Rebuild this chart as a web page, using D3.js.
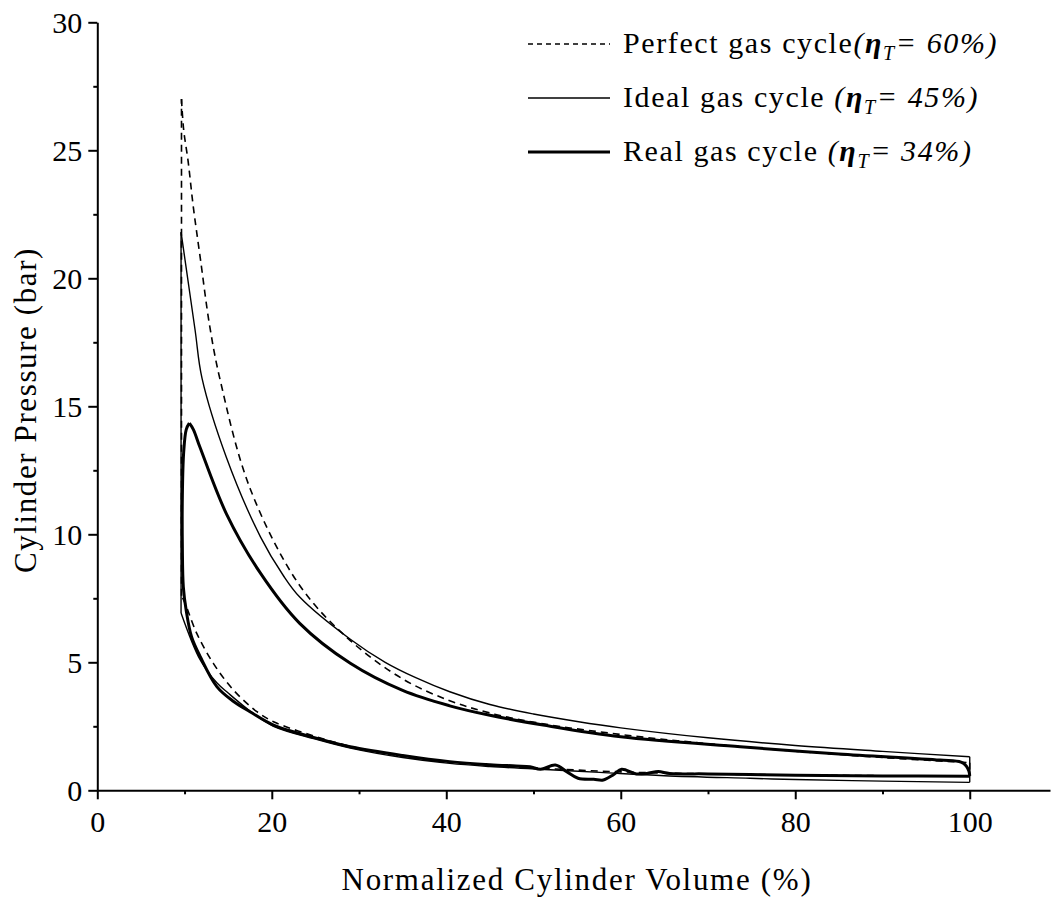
<!DOCTYPE html>
<html>
<head>
<meta charset="utf-8">
<script src="https://cdn.jsdelivr.net/npm/d3@7"></script>
<style>
  body { margin: 0; background: #fff; }
  svg text { font-family: "Liberation Serif", "DejaVu Serif", serif; fill: #000; }
</style>
</head>
<body>
<svg id="chart" width="1051" height="901"></svg>
<script>
// --- données : [volume normalisé (%), pression (bar)] ---

// cycle gaz parfait (tirets)
const perfectCompression = [[100,0.55],[90,0.57],[80,0.6],[70,0.64],[60,0.72],[50,0.88],[40.4,1.1],[35,1.32],[29,1.72],[25,2.1],[20.2,2.68],[18.3,3.07],[15.6,3.92],[13.3,4.96],[11.4,6.13],[10.07,7.3],[9.65,7.6]];
const perfectExpansion = [[9.65,27.0],[9.9,25.8],[10.4,24.6],[11.0,22.8],[11.8,20.8],[12.9,18.1],[14.1,16.0],[17.5,11.8],[23.2,8.0],[29,5.85],[35,4.35],[40.4,3.5],[45,3.02],[50.7,2.62],[60,2.18],[70,1.82],[80,1.53],[90,1.28],[100,1.08]];

// cycle gaz idéal (trait fin)
const idealCompression = [[100,0.31],[90,0.36],[80,0.42],[74.8,0.47],[65,0.57],[57.6,0.7],[51.9,0.8],[45,0.93],[40.4,1.05],[35,1.28],[29,1.65],[25,2.0],[20.2,2.5],[17.5,3.1],[15,3.8],[13.7,4.2],[11.8,5.09],[9.6,6.93]];
const idealExpansion = [[9.6,21.8],[11.2,18.0],[12.0,16.1],[14.8,13.0],[18.7,9.9],[21.3,8.4],[23.2,7.55],[29,5.9],[33,5.0],[36.5,4.4],[40.4,3.85],[45,3.35],[50,2.98],[55,2.69],[60,2.44],[70,2.05],[80,1.75],[90,1.52],[100,1.31]];

// cycle gaz réel (trait épais) : compression, pic, détente
const realCompression = [[100,0.55],[90,0.56],[80,0.59],[74.8,0.62],[70,0.64],[65.6,0.66],[64.3,0.73],[63,0.66],[61.8,0.64],[60.1,0.82],[59.2,0.62],[58,0.4],[56.9,0.43],[55.1,0.47],[53.8,0.73],[52.5,0.99],[50.8,0.82],[49.6,0.92],[48,0.95],[45,1.0],[40.4,1.12],[35,1.36],[29,1.7],[25.2,2.03],[20.2,2.55],[17.5,3.07],[15.5,3.5],[13.7,4.05],[11.8,5.22],[10.8,6.0],[10.2,7.0],[9.86,7.95],[9.75,9.5],[9.75,11.5],[9.9,13.2],[10.2,14.1],[10.55,14.34]];
const realExpansion = [[10.55,14.34],[11.0,14.1],[11.77,13.4],[14.8,10.8],[18.7,8.48],[23.2,6.52],[29,4.96],[35,3.9],[40.4,3.3],[45,2.93],[51.1,2.55],[60,2.09],[73.7,1.7],[85,1.42],[96.6,1.18],[99,1.1],[99.6,0.95],[99.9,0.75],[100,0.56]];

// graduations
const xTicks = [0, 20, 40, 60, 80, 100];
const xMinor = [10, 30, 50, 70, 90];
const yTicks = [0, 5, 10, 15, 20, 25, 30];
const yMinor = [2.5, 7.5, 12.5, 17.5, 22.5, 27.5];

const legendLabels = [
  { name: "Perfect gas cycle", space: "", eta: "= 60%)" },
  { name: "Ideal gas cycle", space: " ", eta: "= 45%)" },
  { name: "Real gas cycle", space: " ", eta: "= 34%)" }
];

// --- mise en page ---
const svg = d3.select("#chart");
const x = d3.scaleLinear().domain([0, 109.2]).range([97.3, 1050]);
const y = d3.scaleLinear().domain([0, 30]).range([790.3, 22.3]);

const line = d3.line().x(d => x(d[0])).y(d => y(d[1]));
const smooth = d3.line().x(d => x(d[0])).y(d => y(d[1])).curve(d3.curveCatmullRom.alpha(0.5));

// styles des trois séries
const styles = {
  perfect: { width: 1.6, dash: "7,5" },
  ideal: { width: 1.4, dash: null },
  real: { width: 3, dash: null }
};

function drawPath(d, gen, st) {
  svg.append("path")
    .attr("d", gen(d))
    .attr("fill", "none")
    .attr("stroke", "#000")
    .attr("stroke-width", st.width)
    .attr("stroke-dasharray", st.dash)
    .attr("stroke-linejoin", "round");
}

// gaz idéal
drawPath(idealCompression, smooth, styles.ideal);
drawPath(idealExpansion, smooth, styles.ideal);
drawPath([idealCompression[idealCompression.length - 1], idealExpansion[0]], line, styles.ideal);
drawPath([idealExpansion[idealExpansion.length - 1], idealCompression[0]], line, styles.ideal);

// gaz réel
drawPath(realCompression, smooth, styles.real);
drawPath(realExpansion, smooth, styles.real);

// gaz parfait
drawPath(perfectCompression, smooth, styles.perfect);
drawPath(perfectExpansion, smooth, styles.perfect);
drawPath([perfectCompression[perfectCompression.length - 1], perfectExpansion[0]], line, styles.perfect);
drawPath([perfectExpansion[perfectExpansion.length - 1], perfectCompression[0]], line, styles.perfect);

// --- axes ---
const axisX = svg.append("g").attr("transform", `translate(0,${y(0)})`)
  .call(d3.axisBottom(x).tickValues(xTicks).tickSize(9).tickSizeOuter(0).tickPadding(6));
svg.append("g").attr("transform", `translate(0,${y(0)})`)
  .call(d3.axisBottom(x).tickValues(xMinor).tickSize(4).tickSizeOuter(0).tickFormat(""))
  .select(".domain").remove();

const axisY = svg.append("g").attr("transform", `translate(${x(0)},0)`)
  .call(d3.axisLeft(y).tickValues(yTicks).tickSize(9).tickSizeOuter(0).tickPadding(6));
svg.append("g").attr("transform", `translate(${x(0)},0)`)
  .call(d3.axisLeft(y).tickValues(yMinor).tickSize(4).tickSizeOuter(0).tickFormat(""))
  .select(".domain").remove();

svg.selectAll(".domain, .tick line").attr("stroke", "#000").attr("stroke-width", 2);
axisX.selectAll("text").style("font-size", "30px").attr("dy", "0.9em");
axisY.selectAll("text").style("font-size", "30px").attr("dy", "0.35em");

// titres des axes
svg.append("text")
  .attr("x", 577).attr("y", 890)
  .attr("text-anchor", "middle")
  .style("font-size", "31px")
  .style("letter-spacing", "1.7px")
  .text("Normalized Cylinder Volume (%)");

svg.append("text")
  .attr("transform", "translate(36,410) rotate(-90)")
  .attr("text-anchor", "middle")
  .style("font-size", "31px")
  .style("letter-spacing", "1.6px")
  .text("Cylinder Pressure (bar)");

// --- légende ---
const legendKeys = ["perfect", "ideal", "real"];
legendLabels.forEach((lab, i) => {
  const ly = 44 + i * 54;
  const st = styles[legendKeys[i]];
  svg.append("line")
    .attr("x1", 528).attr("x2", 610)
    .attr("y1", ly).attr("y2", ly)
    .attr("stroke", "#000")
    .attr("stroke-width", st.width)
    .attr("stroke-dasharray", st.dash ? "5,4" : null);

  const t = svg.append("text")
    .attr("x", 623).attr("y", ly + 9)
    .style("font-size", "30px")
    .style("letter-spacing", "1.6px");
  t.append("tspan").text(lab.name + lab.space);
  t.append("tspan").style("font-style", "italic").text("(");
  t.append("tspan").style("font-style", "italic").style("font-weight", "bold").text("η");
  t.append("tspan").style("font-style", "italic").style("font-size", "20px").attr("dy", 7).text("T");
  t.append("tspan").style("font-style", "italic").attr("dy", -7).text(lab.eta);
});
</script>
</body>
</html>
